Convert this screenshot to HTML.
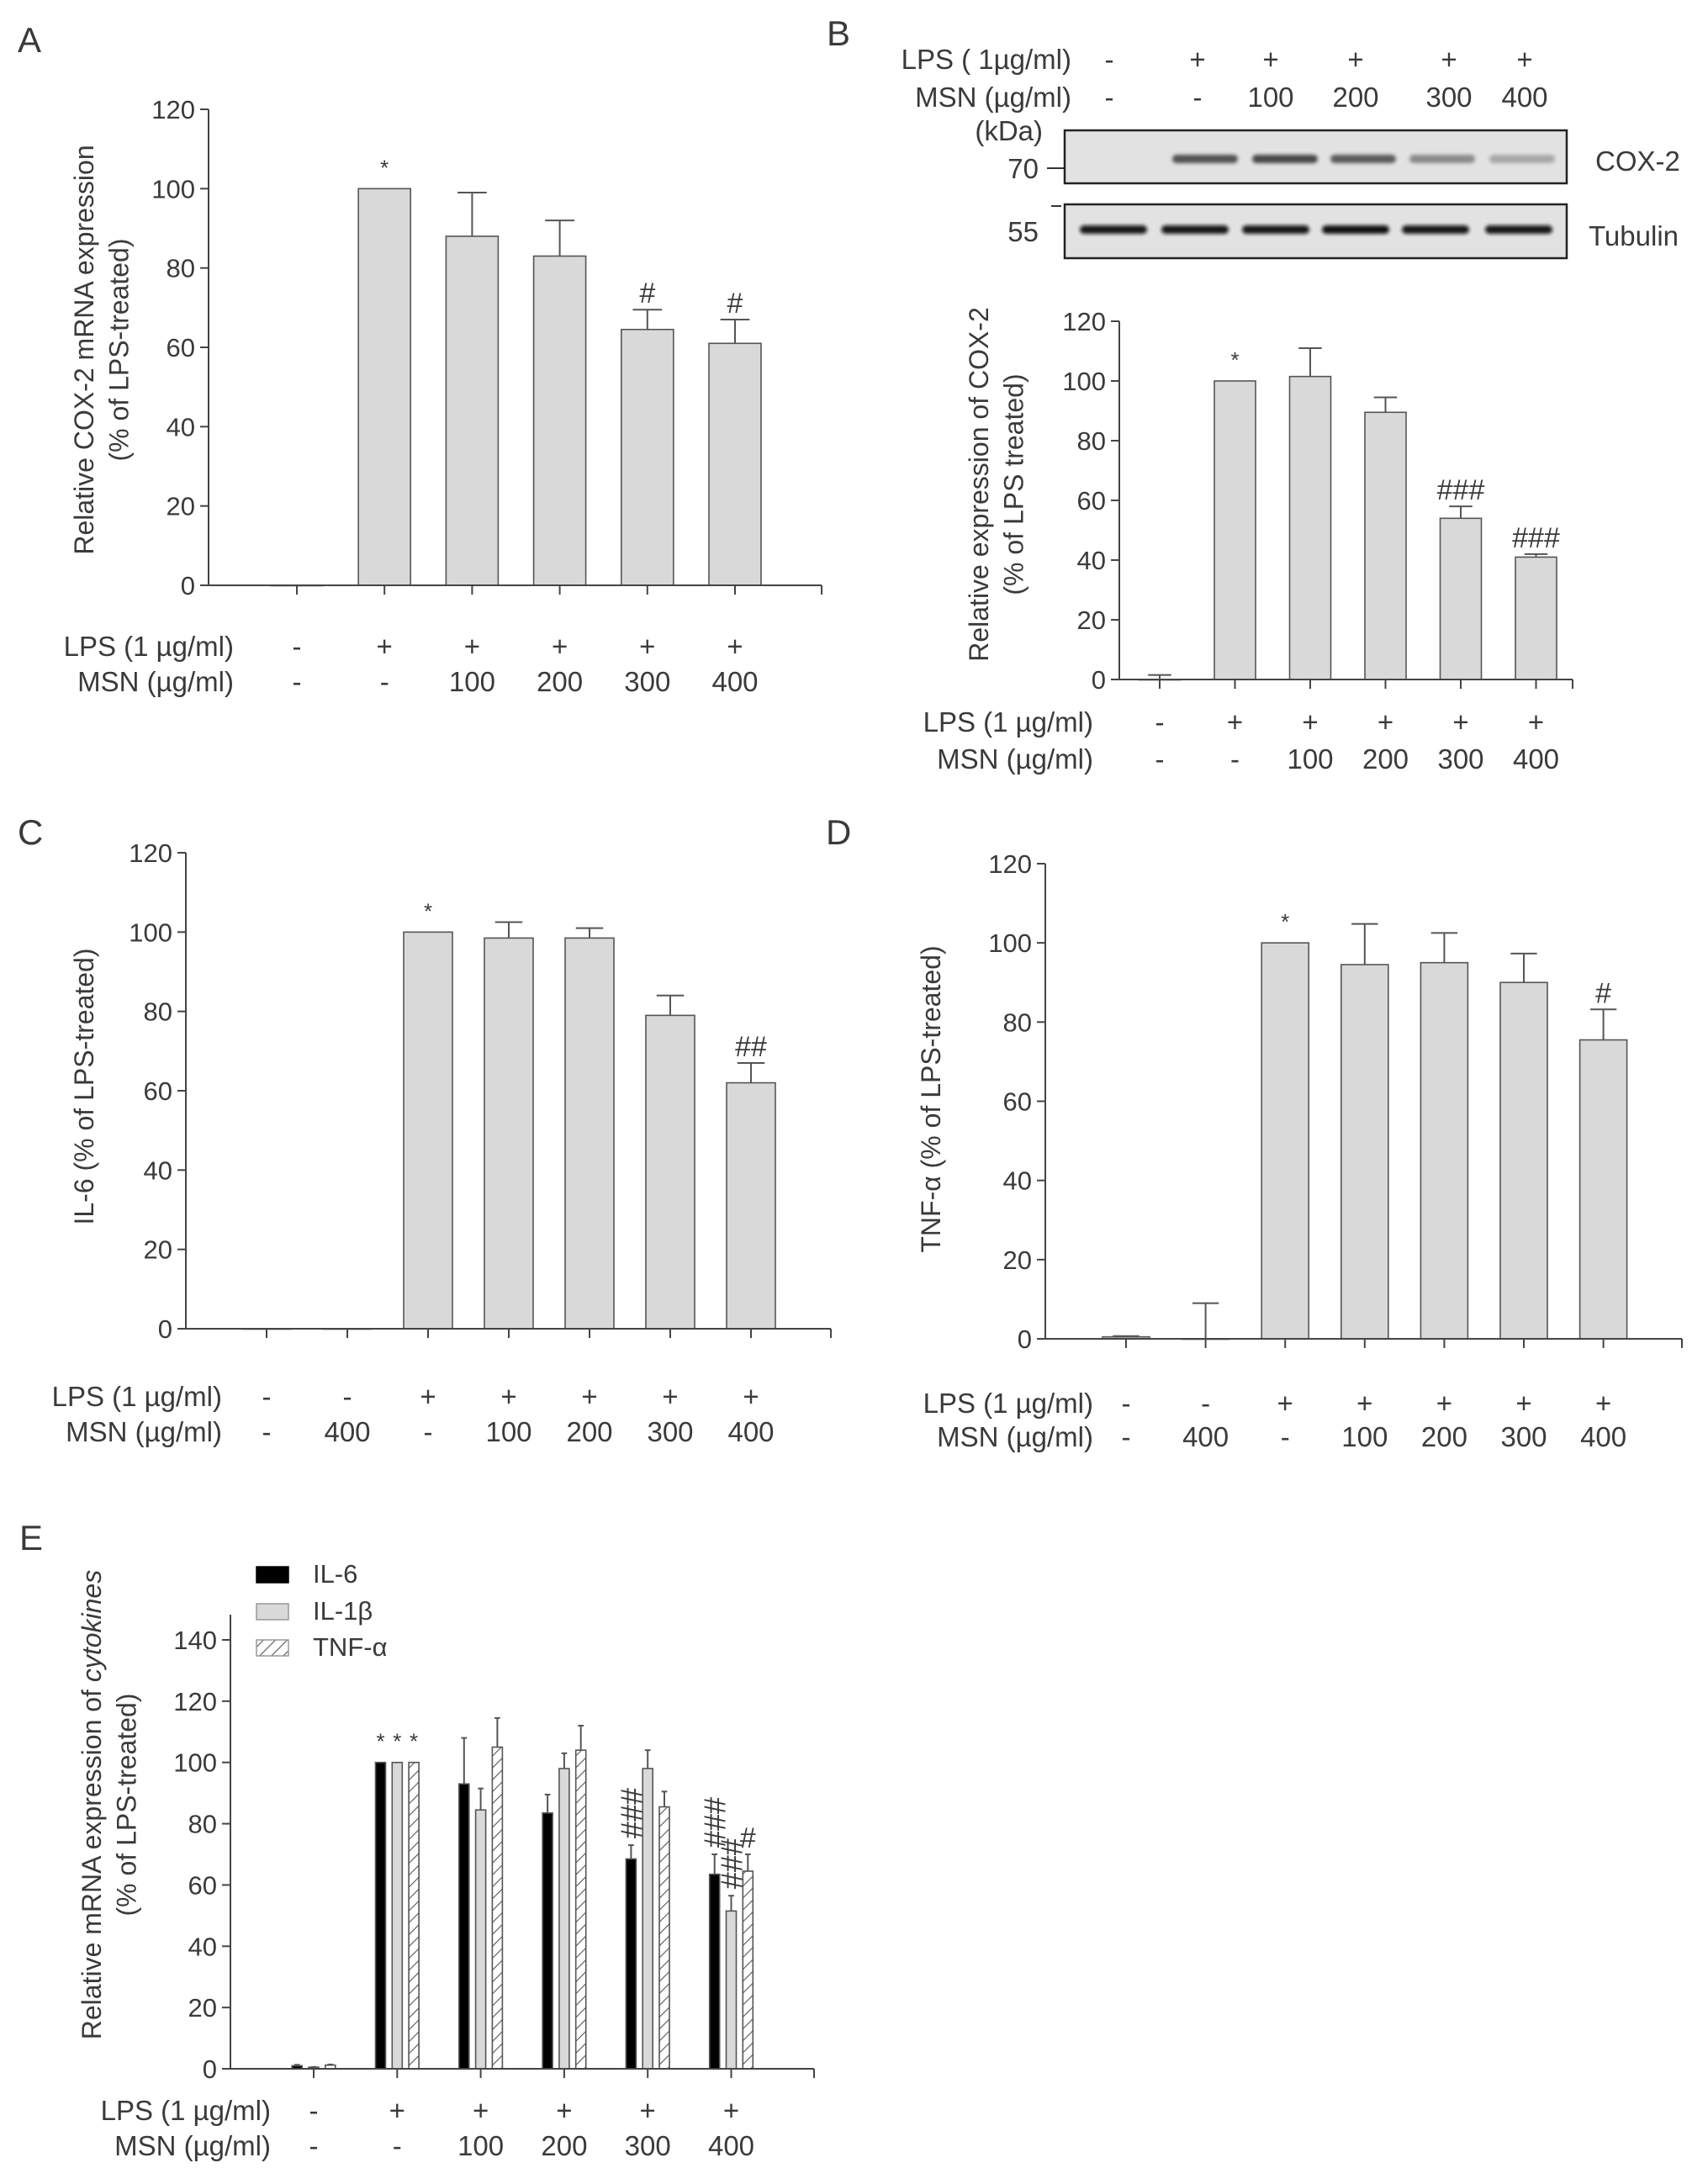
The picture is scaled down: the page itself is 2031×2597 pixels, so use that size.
<!DOCTYPE html>
<html><head><meta charset="utf-8">
<style>
html,body{margin:0;padding:0;background:#fff;}
svg{display:block;}
text{font-family:"Liberation Sans",sans-serif;fill:#3a3a3a;}
</style></head>
<body>
<svg id="fig" width="2031" height="2597" viewBox="0 0 2031 2597" xmlns="http://www.w3.org/2000/svg">
<defs>
<pattern id="hatch" patternUnits="userSpaceOnUse" width="10" height="10" patternTransform="rotate(45)">
<rect width="10" height="10" fill="#fff"/><line x1="0" y1="0" x2="0" y2="10" stroke="#555" stroke-width="2.2"/>
</pattern>
<filter id="blur" x="-10%" y="-100%" width="120%" height="300%"><feGaussianBlur stdDeviation="2.2"/></filter>
</defs>
<g id="root"></g>
</svg>
<script>
// ---------- DATA ----------
const aLps = ["-", "+", "+", "+", "+", "+"];
const aMsn = ["-", "-", "100", "200", "300", "400"];
const aValues = [0, 100, 88, 83, 64.5, 61];
const aErrTops = [0, 100, 99, 92, 69.5, 67];
const aMarks = ["", "*", "", "", "#", "#"];

const bLps = ["-", "+", "+", "+", "+", "+"];
const bMsn = ["-", "-", "100", "200", "300", "400"];
const bValues = [0, 100, 101.5, 89.5, 54, 41];
const bErrTops = [1.5, 100, 111, 94.5, 58, 42];
const bMarks = ["", "*", "", "", "###", "###"];
const bCoxBand = [0, 0.75, 0.8, 0.7, 0.45, 0.3];
const bTubBand = [0.95, 0.95, 0.95, 0.98, 0.95, 0.95];

const cLps = ["-", "-", "+", "+", "+", "+", "+"];
const cMsn = ["-", "400", "-", "100", "200", "300", "400"];
const cValues = [0, 0, 100, 98.5, 98.5, 79, 62];
const cErrTops = [0, 0, 100, 102.5, 101, 84, 67];
const cMarks = ["", "", "*", "", "", "", "##"];

const dLps = ["-", "-", "+", "+", "+", "+", "+"];
const dMsn = ["-", "400", "-", "100", "200", "300", "400"];
const dValues = [0.5, 0, 100, 94.5, 95, 90, 75.5];
const dErrTops = [0.7, 9, 100, 104.8, 102.5, 97.3, 83.2];
const dMarks = ["", "", "*", "", "", "", "#"];

const eLps = ["-", "+", "+", "+", "+", "+"];
const eMsn = ["-", "-", "100", "200", "300", "400"];
const eSeries = ["IL-6", "IL-1β", "TNF-α"];
const eIL6 = [1, 100, 93, 83.5, 68.5, 63.5];
const eIL6Err = [1.3, 100, 108, 89.5, 73, 70];
const eIL1b = [0.5, 100, 84.5, 98, 98, 51.5];
const eIL1bErr = [0.6, 100, 91.5, 103, 104, 56.5];
const eTNF = [1.2, 100, 105, 104, 85.5, 64.5];
const eTNFErr = [1.4, 100, 114.5, 112, 90.5, 70];
const eIL6Marks = ["", "*", "", "", "###", "###"];
const eIL1bMarks = ["", "*", "", "", "", "###"];
const eTNFMarks = ["", "*", "", "", "", "#"];

// ---------- DRAW ----------
const NS = "http://www.w3.org/2000/svg";
const root = document.getElementById("root");
function el(tag, attrs, parent) {
  const e = document.createElementNS(NS, tag);
  for (const k in attrs) e.setAttribute(k, attrs[k]);
  (parent || root).appendChild(e);
  return e;
}
function txt(s, x, y, size, anchor, parent) {
  const t = el("text", {x: x, y: y, "font-size": size, "text-anchor": anchor || "middle"}, parent);
  t.textContent = s;
  return t;
}
function makeY(c) { return v => c.yZero - (v / c.ymax) * (c.yZero - c.yTop); }
function catX(c, i) { return c.first + i * c.spacing; }

function axes(g, c, ticks) {
  const y = makeY(c);
  const ax = el("line", {x1: c.axisX, y1: c.yTop, x2: c.axisX, y2: c.yZero, stroke: "#444", "stroke-width": 2}, g);
  
  
  const xx = el("line", {x1: c.axisX, y1: c.yZero, x2: c.axisEnd, y2: c.yZero, stroke: "#444", "stroke-width": 2}, g);
  
  
  el("line", {x1: c.axisEnd, y1: c.yZero, x2: c.axisEnd, y2: c.yZero + 11, stroke: "#444", "stroke-width": 2}, g);
  ticks.forEach(v => {
    el("line", {x1: c.axisX - 10, y1: y(v), x2: c.axisX, y2: y(v), stroke: "#444", "stroke-width": 2}, g);
    const t = txt(String(v), c.axisX - 16, y(v) + 11, 31, "end", g);
    
    
  });
  for (let i = 0; i < c.n; i++) {
    el("line", {x1: catX(c, i), y1: c.yZero, x2: catX(c, i), y2: c.yZero + 11, stroke: "#444", "stroke-width": 2}, g);
  }
}
function rows(g, c, lps, msn) {
  const l1 = txt("LPS (1 µg/ml)", c.labelRight, c.lpsY, 33, "end", g);
  
  
  const l2 = txt("MSN (µg/ml)", c.labelRight, c.msnY, 33, "end", g);
  
  
  lps.forEach((s, i) => {
    const t = txt(s, catX(c, i), c.lpsY, 33, "middle", g);
    
    
  });
  msn.forEach((s, i) => {
    const t = txt(s, catX(c, i), c.msnY, 33, "middle", g);
    
    
  });
}
function bar(g, c, cx, w, v, err, fill, mark, rotMark) {
  const y = makeY(c);
  if (err > v) {
    el("line", {x1: cx, y1: y(v), x2: cx, y2: y(err), stroke: "#555", "stroke-width": 2}, g);
    el("line", {x1: cx - w * 0.28, y1: y(err), x2: cx + w * 0.28, y2: y(err), stroke: "#555", "stroke-width": 2}, g);
  }
  const r = el("rect", {x: cx - w / 2, y: y(v), width: w, height: Math.max(y(0) - y(v), 0.5), fill: fill, stroke: "#555", "stroke-width": 1.6}, g);
  
  
  if (mark) {
    const top = y(Math.max(v, err));
    let t;
    if (mark === "*") t = txt("*", cx, top - 16, 26, "middle", g);
    else if (rotMark && mark.length > 1) {
      t = txt(mark, 0, 0, 36, "middle", g);
      t.setAttribute("transform", "translate(" + (cx - 12) + "," + (top - 38) + ") rotate(90)");
    } else t = txt(mark, cx, top - 8, 34, "middle", g);
    
    
  }
}
function yTitle(g, lines, x, yc, size) {
  lines.forEach((s, i) => {
    const t = txt("", 0, 0, size, "middle", g);
    t.setAttribute("transform", "translate(" + (x + i * size * 1.3) + "," + yc + ") rotate(-90)");
    if (Array.isArray(s)) {
      s.forEach(p => { const ts = el("tspan", p[1] ? {"font-style": "italic"} : {}, t); ts.textContent = p[0]; });
    } else t.textContent = s;
    
    
  });
}
function letter(s, x, y) {
  const t = txt(s, x, y, 42, "start");
  
  
}
function simplePanel(name, c, vals, errs, marks, lps, msn, ticks, title) {
  const g = el("g", {});
  
  
  vals.forEach((v, i) => bar(g, c, catX(c, i), c.barW, v, errs[i], "#d9d9d9", marks[i], false));
  axes(g, c, ticks);
  rows(g, c, lps, msn);
  yTitle(g, title.lines, title.x, title.yc, 32);
}

// Panel A
letter("A", 21, 62);
simplePanel("panel-a-chart",
  {axisX: 248, axisEnd: 977, yTop: 130, yZero: 696, ymax: 120, first: 353, spacing: 104.2, n: 6, barW: 62, labelRight: 278, lpsY: 780, msnY: 822},
  aValues, aErrTops, aMarks, aLps, aMsn, [0,20,40,60,80,100,120],
  {lines: ["Relative COX-2 mRNA expression", "(% of LPS-treated)"], x: 111, yc: 416});

// Panel B
letter("B", 983, 54);
(function(){
  const g = el("g", {});
  
  
  const lanes = [1319, 1424, 1511, 1612, 1723, 1813];
  const tl = txt("LPS ( 1µg/ml)", 1274, 82, 33, "end", g);
  
  
  const tm = txt("MSN (µg/ml)", 1274, 127, 33, "end", g);
  
  
  bLps.forEach((s, i) => txt(s, lanes[i], 82, 33, "middle", g));
  bMsn.forEach((s, i) => txt(s, lanes[i], 127, 33, "middle", g));
  txt("(kDa)", 1240, 167, 33, "end", g);
  txt("70", 1235, 212, 33, "end", g);
  txt("55", 1235, 287, 33, "end", g);
  el("line", {x1: 1245, y1: 200, x2: 1266, y2: 200, stroke: "#333", "stroke-width": 2}, g);
  el("line", {x1: 1250, y1: 245, x2: 1262, y2: 245, stroke: "#333", "stroke-width": 2}, g);
  const b1 = el("rect", {x: 1266, y: 155, width: 597, height: 63, fill: "#e2e2e2", stroke: "#222", "stroke-width": 2.5}, g);
  
  
  const b2 = el("rect", {x: 1266, y: 243, width: 597, height: 64, fill: "#e2e2e2", stroke: "#222", "stroke-width": 2.5}, g);
  
  
  const coxC = [1323, 1433, 1528, 1621, 1715, 1810];
  const tubC = [1324, 1421, 1517, 1612, 1707, 1806];
  bCoxBand.forEach((a, i) => { if (a > 0) { const r = el("rect", {x: coxC[i]-39, y: 184, width: 78, height: 10, rx: 5, fill: "#222", opacity: a, filter: "url(#blur)"}, g);   } });
  bTubBand.forEach((a, i) => { const r = el("rect", {x: tubC[i]-40, y: 268, width: 80, height: 10, rx: 5, fill: "#111", opacity: a, filter: "url(#blur)"}, g);   });
  txt("COX-2", 1897, 203, 33, "start", g);
  txt("Tubulin", 1889, 292, 33, "start", g);
})();
simplePanel("panel-b-chart",
  {axisX: 1331, axisEnd: 1870, yTop: 382, yZero: 808, ymax: 120, first: 1379, spacing: 89.5, n: 6, barW: 49, labelRight: 1300, lpsY: 870, msnY: 914},
  bValues, bErrTops, bMarks, bLps, bMsn, [0,20,40,60,80,100,120],
  {lines: ["Relative expression  of COX-2", "(% of LPS treated)"], x: 1175, yc: 576});

// Panel C
letter("C", 21, 1004);
simplePanel("panel-c-chart",
  {axisX: 221, axisEnd: 988, yTop: 1014, yZero: 1580, ymax: 120, first: 317, spacing: 96, n: 7, barW: 58, labelRight: 264, lpsY: 1672, msnY: 1714},
  cValues, cErrTops, cMarks, cLps, cMsn, [0,20,40,60,80,100,120],
  {lines: ["IL-6 (% of LPS-treated)"], x: 111, yc: 1292});

// Panel D
letter("D", 982, 1004);
simplePanel("panel-d-chart",
  {axisX: 1243, axisEnd: 2000, yTop: 1027, yZero: 1592, ymax: 120, first: 1339, spacing: 94.6, n: 7, barW: 56, labelRight: 1300, lpsY: 1680, msnY: 1720},
  dValues, dErrTops, dMarks, dLps, dMsn, [0,20,40,60,80,100,120],
  {lines: ["TNF-α (% of LPS-treated)"], x: 1118, yc: 1307});

// Panel E
letter("E", 23, 1843);
(function(){
  const c = {axisX: 274, axisEnd: 968, yTop: 1950, yZero: 2460, ymax: 140, first: 373, spacing: 99.3, n: 6, labelRight: 322, lpsY: 2521, msnY: 2563};
  const g = el("g", {});
  
  
  const fills = ["#000", "#d9d9d9", "url(#hatch)"];
  const vals = [eIL6, eIL1b, eTNF], errs = [eIL6Err, eIL1bErr, eTNFErr], marks = [eIL6Marks, eIL1bMarks, eTNFMarks];
  for (let i = 0; i < c.n; i++) {
    for (let s = 0; s < 3; s++) {
      const cx = catX(c, i) + (s - 1) * 19.8;
      bar(g, c, cx, 12, vals[s][i], errs[s][i], fills[s], marks[s][i], true);
    }
  }
  axes(g, c, [0,20,40,60,80,100,120,140]);
  el("line", {x1: c.axisX, y1: 1920, x2: c.axisX, y2: 1950, stroke: "#444", "stroke-width": 2}, g);
  rows(g, c, eLps, eMsn);
  yTitle(g, [[["Relative mRNA expression of ", false], ["cytokines", true]], "(% of LPS-treated)"], 120, 2146, 32);
  const ly = [1863, 1907, 1950];
  eSeries.forEach((s, i) => {
    const r = el("rect", {x: 305, y: ly[i], width: 38, height: 19, fill: fills[i], stroke: i === 0 ? "#000" : "#999", "stroke-width": 1.5}, g);
    
    
    const t = txt(s, 372, ly[i] + 19, 31, "start", g);
    
    
  });
})();
</script>
</body></html>
